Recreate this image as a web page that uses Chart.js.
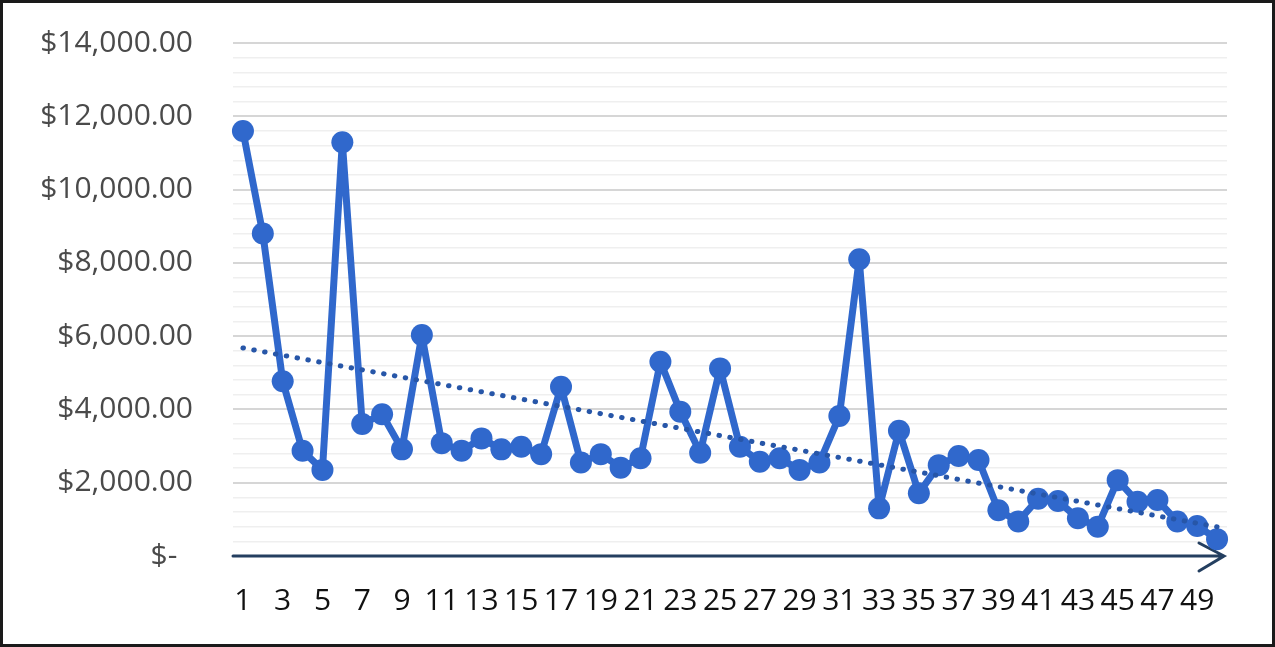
<!DOCTYPE html>
<html>
<head>
<meta charset="utf-8">
<script src="https://cdn.jsdelivr.net/npm/chart.js@4.4.1/dist/chart.umd.min.js"></script>
<style>
  html, body { margin: 0; padding: 0; background: #fff; }
  #frame {
    width: 1275px; height: 647px; box-sizing: border-box;
    border: 3px solid #1a1a1a; background: #fff; position: relative;
  }
  #chart { display: block; }
</style>
</head>
<body>
<div id="frame"><canvas id="chart" width="1269" height="641"></canvas></div>
<script>
// data
const xLabels = ['1','2','3','4','5','6','7','8','9','10','11','12','13','14','15','16','17','18','19','20',
  '21','22','23','24','25','26','27','28','29','30','31','32','33','34','35','36','37','38','39','40',
  '41','42','43','44','45','46','47','48','49','50'];
const sales = [11600, 8800, 4770, 2870, 2350, 11290, 3600, 3870, 2910, 6030,
  3080, 2870, 3210, 2910, 2980, 2780, 4620, 2550, 2780, 2410,
  2670, 5300, 3940, 2820, 5120, 2980, 2570, 2670, 2350, 2550,
  3820, 8100, 1300, 3420, 1710, 2480, 2730, 2620, 1250, 940,
  1560, 1500, 1030, 800, 2070, 1480, 1530, 940, 820, 460];
const yMax = 14000;
const yMajorStep = 2000;
const yMinorStep = 400;

// linear trendline (least squares, like Excel)
function linearTrend(values) {
  const n = values.length;
  let sx = 0, sy = 0, sxx = 0, sxy = 0;
  values.forEach((v, i) => {
    const x = i + 1;
    sx += x; sy += v; sxx += x * x; sxy += x * v;
  });
  const slope = (n * sxy - sx * sy) / (n * sxx - sx * sx);
  const icpt = (sy - slope * sx) / n;
  return values.map((v, i) => icpt + slope * (i + 1));
}
const trend = linearTrend(sales);

const blue = '#3068CC';
const axisColor = '#243F60';
const fontFamily = '"Open Sans", "Liberation Sans", sans-serif';

function moneyLabel(v) {
  if (v === 0) return '$-  ';
  return '$' + v.toLocaleString('en-US', { minimumFractionDigits: 2, maximumFractionDigits: 2 });
}

// arrow head at the right end of the x axis
const axisArrow = {
  id: 'axisArrow',
  beforeDatasetsDraw(chart) {
    const { ctx, chartArea } = chart;
    const y0 = chart.scales.y.getPixelForValue(0);
    const tip = chartArea.right - 3;
    ctx.save();
    ctx.strokeStyle = axisColor;
    ctx.lineWidth = 3;
    ctx.lineCap = 'round';
    ctx.beginPath();
    ctx.moveTo(chartArea.left, y0);
    ctx.lineTo(tip, y0);
    ctx.moveTo(tip - 25, y0 - 13);
    ctx.lineTo(tip, y0);
    ctx.lineTo(tip - 25, y0 + 15);
    ctx.stroke();
    ctx.restore();
  }
};

function draw() {
  const ctx = document.getElementById('chart').getContext('2d');
  new Chart(ctx, {
    type: 'line',
    data: {
      labels: xLabels,
      datasets: [
        {
          label: 'Sales',
          data: sales,
          borderColor: blue,
          backgroundColor: blue,
          borderWidth: 7,
          borderJoinStyle: 'round',
          pointRadius: 11,
          pointBorderWidth: 0,
          pointBackgroundColor: blue,
          tension: 0,
          order: 1
        },
        {
          label: 'Linear (Sales)',
          data: trend,
          borderColor: '#2756A8',
          borderWidth: 5,
          borderDash: [0.5, 10.5],
          borderCapStyle: 'round',
          pointRadius: 0,
          tension: 0,
          order: 0
        }
      ]
    },
    options: {
      responsive: false,
      animation: false,
      layout: { padding: { left: 0, right: 45, top: 40, bottom: 0 } },
      plugins: {
        legend: { display: false },
        tooltip: { enabled: false }
      },
      scales: {
        x: {
          offset: true,
          grid: { display: false, drawTicks: false },
          border: { display: false },
          ticks: {
            autoSkip: false,
            maxRotation: 0,
            padding: 27,
            color: '#111111',
            font: { family: fontFamily, size: 30 },
            callback: (val, i) => (i % 2 === 0 ? xLabels[i] : '')
          },
          afterFit: (scale) => { scale.height = 88; }
        },
        y: {
          min: 0,
          max: yMax,
          border: { display: false },
          grid: {
            drawTicks: true,
            tickLength: 40,
            tickColor: 'rgba(0,0,0,0)',
            color: (c) => {
              if (c.tick.value === 0) return 'rgba(0,0,0,0)';
              return c.tick.value % yMajorStep === 0 ? '#d6d6d6' : '#efefef';
            },
            lineWidth: (c) => (c.tick.value % yMajorStep === 0 ? 2 : 1.5)
          },
          ticks: {
            stepSize: yMinorStep,
            autoSkip: false,
            padding: 0,
            color: '#4a4a4a',
            font: { family: fontFamily, size: 30 },
            callback: (v) => (v % yMajorStep === 0 ? moneyLabel(v) : '')
          },
          afterFit: (scale) => { scale.width = 230; }
        }
      }
    },
    plugins: [axisArrow]
  });
}

if (document.fonts && document.fonts.load) {
  document.fonts.load('30px "Open Sans"').then(draw, draw);
} else {
  draw();
}
</script>
</body>
</html>
